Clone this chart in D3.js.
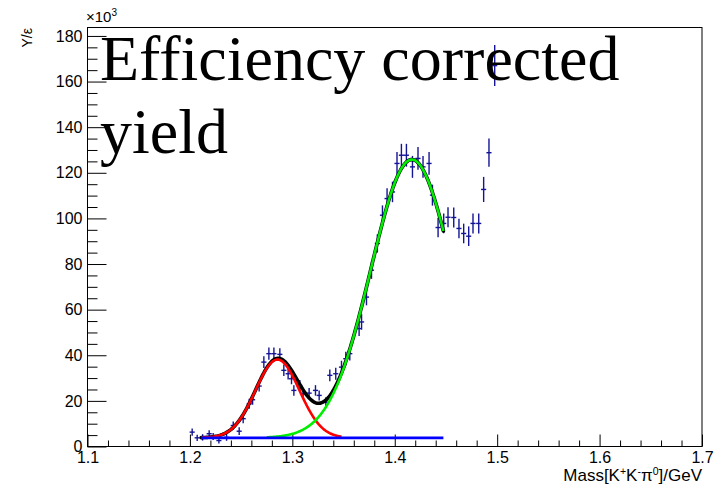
<!DOCTYPE html>
<html>
<head>
<meta charset="utf-8">
<script src="https://cdn.jsdelivr.net/npm/d3@7"></script>
<style>
  html, body { margin: 0; padding: 0; background: #fff; }
  svg { display: block; }
  .tick text { font-family: "Liberation Sans", Arial, sans-serif; font-size: 16px; fill: #000; }
</style>
</head>
<body>
<svg id="chart" width="722" height="487"></svg>
<script>
// Measured invariant mass bins (GeV) and efficiency-corrected yields (x10^3)
const mass = [1.2022, 1.2071, 1.2124, 1.2188, 1.2227, 1.2283, 1.2358, 1.2423, 1.2481, 1.2520,
  1.2579, 1.2612, 1.2676, 1.2722, 1.2771, 1.2820, 1.2878, 1.2917, 1.2959, 1.2992,
  1.3015, 1.3073, 1.3105, 1.3164, 1.3226, 1.3262, 1.3327, 1.3366, 1.3424, 1.3480,
  1.3522, 1.3561, 1.3652, 1.3676, 1.3724, 1.3773, 1.3830, 1.3880, 1.3925, 1.3978,
  1.4022, 1.4065, 1.4114, 1.4173, 1.4227, 1.4276, 1.4335, 1.4368, 1.4423, 1.4478,
  1.4520, 1.4576, 1.4627, 1.4673, 1.4722, 1.4764, 1.4820, 1.4868, 1.4920, 1.4976];
const yieldVals = [6.3, 3.8, 4.0, 5.6, 4.4, 2.6, 4.0, 9.2, 6.7, 12.2,
  18.7, 20.5, 26.5, 37.0, 40.7, 40.7, 40.4, 33.4, 31.9, 29.7,
  24.6, 26.8, 23.1, 23.4, 24.6, 22.4, 19.4, 31.2, 31.9, 34.8,
  38.5, 40.7, 51.7, 54.6, 65.5, 77.3, 89.0, 101.4, 108.7, 111.6,
  124.1, 127.7, 127.7, 122.6, 126.3, 122.6, 124.1, 110.2, 96.0, 97.8,
  100.5, 100.4, 95.6, 93.4, 92.2, 97.8, 97.8, 112.7, 128.8, 167.0];
const yieldErr = [1.6, 1.4, 1.4, 1.5, 1.5, 1.3, 1.5, 1.8, 1.7, 2.0,
  2.2, 2.2, 2.4, 2.6, 2.7, 2.7, 2.7, 2.5, 2.5, 2.4,
  2.3, 2.4, 2.3, 2.3, 2.3, 2.2, 2.2, 2.6, 2.6, 2.8,
  3.0, 3.0, 3.3, 3.4, 3.6, 3.8, 4.0, 4.3, 4.5, 4.5,
  5.0, 5.0, 5.0, 4.8, 5.0, 4.8, 5.0, 4.6, 4.3, 4.3,
  4.4, 4.4, 4.3, 4.3, 4.3, 4.4, 4.4, 5.5, 6.2, 9.0];
const binHalfWidth = 0.0025;

// Fit model: flat background + two Gaussian peaks
const background = 3.8;
const peak1 = { mean: 1.2855, sigma: 0.0215, amp: 34.3 };
const peak2 = { mean: 1.4167, sigma: 0.0400, amp: 122.0 };
const fitRange = [1.211, 1.4475];
const peak1Range = [1.211, 1.348];
const peak2Range = [1.275, 1.4475];

// Axis ticks
const xMajor = [1.1, 1.2, 1.3, 1.4, 1.5, 1.6, 1.7];
const xMinor = [1.12, 1.14, 1.16, 1.18, 1.22, 1.24, 1.26, 1.28, 1.32, 1.34, 1.36, 1.38,
  1.42, 1.44, 1.46, 1.48, 1.52, 1.54, 1.56, 1.58, 1.62, 1.64, 1.66, 1.68];
const yMajor = [0, 20, 40, 60, 80, 100, 120, 140, 160, 180];
const yMinor = [5, 10, 15, 25, 30, 35, 45, 50, 55, 65, 70, 75, 85, 90, 95, 105, 110, 115,
  125, 130, 135, 145, 150, 155, 165, 170, 175];

const frame = { left: 87.5, right: 702, top: 27.5, bottom: 446.5 };
const svg = d3.select("#chart");

const x = d3.scaleLinear().domain([1.1, 1.7]).range([frame.left, frame.right]);
const y = d3.scaleLinear().domain([0, 183.7]).range([frame.bottom, frame.top]);

function gauss(p, m) { return p.amp * Math.exp(-0.5 * Math.pow((m - p.mean) / p.sigma, 2)); }
function sample(range, fn) {
  const n = 240, out = [];
  for (let i = 0; i <= n; i++) {
    const m = range[0] + (range[1] - range[0]) * i / n;
    out.push([m, fn(m)]);
  }
  return out;
}
const line = d3.line().x(d => x(d[0])).y(d => y(d[1]));

// Axes (ticks point inward)
const gx = svg.append("g").attr("transform", `translate(0,${frame.bottom})`)
  .call(d3.axisBottom(x).tickValues(xMajor).tickSize(-12).tickPadding(5.5)
    .tickFormat(d3.format(".1f")));
gx.select(".domain").remove();
const gxm = svg.append("g").attr("transform", `translate(0,${frame.bottom})`)
  .call(d3.axisBottom(x).tickValues(xMinor).tickSize(-6).tickFormat(""));
gxm.select(".domain").remove();

const gy = svg.append("g").attr("transform", `translate(${frame.left},0)`)
  .call(d3.axisLeft(y).tickValues(yMajor).tickSize(-19).tickPadding(5).tickFormat(d3.format("d")));
gy.select(".domain").remove();
const gym = svg.append("g").attr("transform", `translate(${frame.left},0)`)
  .call(d3.axisLeft(y).tickValues(yMinor).tickSize(-10).tickFormat(""));
gym.select(".domain").remove();
svg.selectAll(".tick line").attr("stroke", "#000").attr("stroke-width", 1);

// Frame
svg.append("rect")
  .attr("x", frame.left).attr("y", frame.top)
  .attr("width", frame.right - frame.left).attr("height", frame.bottom - frame.top)
  .attr("fill", "none").attr("stroke", "#000").attr("stroke-width", 1);

// Data points with error bars
const pts = svg.append("g").attr("stroke", "#141496").attr("stroke-width", 1.4);
mass.forEach((m, i) => {
  const v = yieldVals[i], e = yieldErr[i];
  pts.append("line").attr("x1", x(m - binHalfWidth)).attr("x2", x(m + binHalfWidth))
    .attr("y1", y(v)).attr("y2", y(v));
  pts.append("line").attr("x1", x(m)).attr("x2", x(m))
    .attr("y1", y(v - e)).attr("y2", y(v + e));
});

// Fit curves
svg.append("path").datum(sample(fitRange, m => background + gauss(peak1, m) + gauss(peak2, m)))
  .attr("d", line).attr("fill", "none").attr("stroke", "#000").attr("stroke-width", 3.6)
  .attr("stroke-linecap", "round");
svg.append("path").datum(sample(peak1Range, m => background + gauss(peak1, m)))
  .attr("d", line).attr("fill", "none").attr("stroke", "#ff0000").attr("stroke-width", 2.6);
svg.append("path").datum(sample(peak2Range, m => background + gauss(peak2, m)))
  .attr("d", line).attr("fill", "none").attr("stroke", "#00ee00").attr("stroke-width", 2.6);
svg.append("path").datum(sample(fitRange, m => background))
  .attr("d", line).attr("fill", "none").attr("stroke", "#0000ff").attr("stroke-width", 2.6);

// Exponent marker above the y axis
const expo = svg.append("text").attr("x", 86).attr("y", 22)
  .attr("font-family", "Liberation Sans, Arial, sans-serif").attr("font-size", 15).attr("fill", "#000");
expo.append("tspan").text("×10");
expo.append("tspan").attr("dy", -6).attr("font-size", 10).text("3");

// Axis titles
svg.append("text").attr("transform", "translate(32,28) rotate(-90)")
  .attr("text-anchor", "end").attr("font-family", "Liberation Sans, Arial, sans-serif")
  .attr("font-size", 14).attr("fill", "#000").text("Y/ε");

const xt = svg.append("text").attr("x", 702).attr("y", 481).attr("text-anchor", "end")
  .attr("font-family", "Liberation Sans, Arial, sans-serif").attr("font-size", 17).attr("fill", "#000");
xt.append("tspan").text("Mass[K");
xt.append("tspan").attr("dy", -6).attr("font-size", 10.5).text("+");
xt.append("tspan").attr("dy", 6).text("K");
xt.append("tspan").attr("dy", -6).attr("font-size", 10.5).text("-");
xt.append("tspan").attr("dy", 6).text("π");
xt.append("tspan").attr("dy", -6).attr("font-size", 10.5).text("0");
xt.append("tspan").attr("dy", 6).text("]/GeV");

// Plot title
const title = svg.append("text").attr("font-family", "Liberation Serif, 'Times New Roman', serif")
  .attr("font-size", 64).attr("fill", "#000");
title.append("tspan").attr("x", 100).attr("y", 80).text("Efficiency corrected");
title.append("tspan").attr("x", 100).attr("y", 153).text("yield");
</script>
</body>
</html>
